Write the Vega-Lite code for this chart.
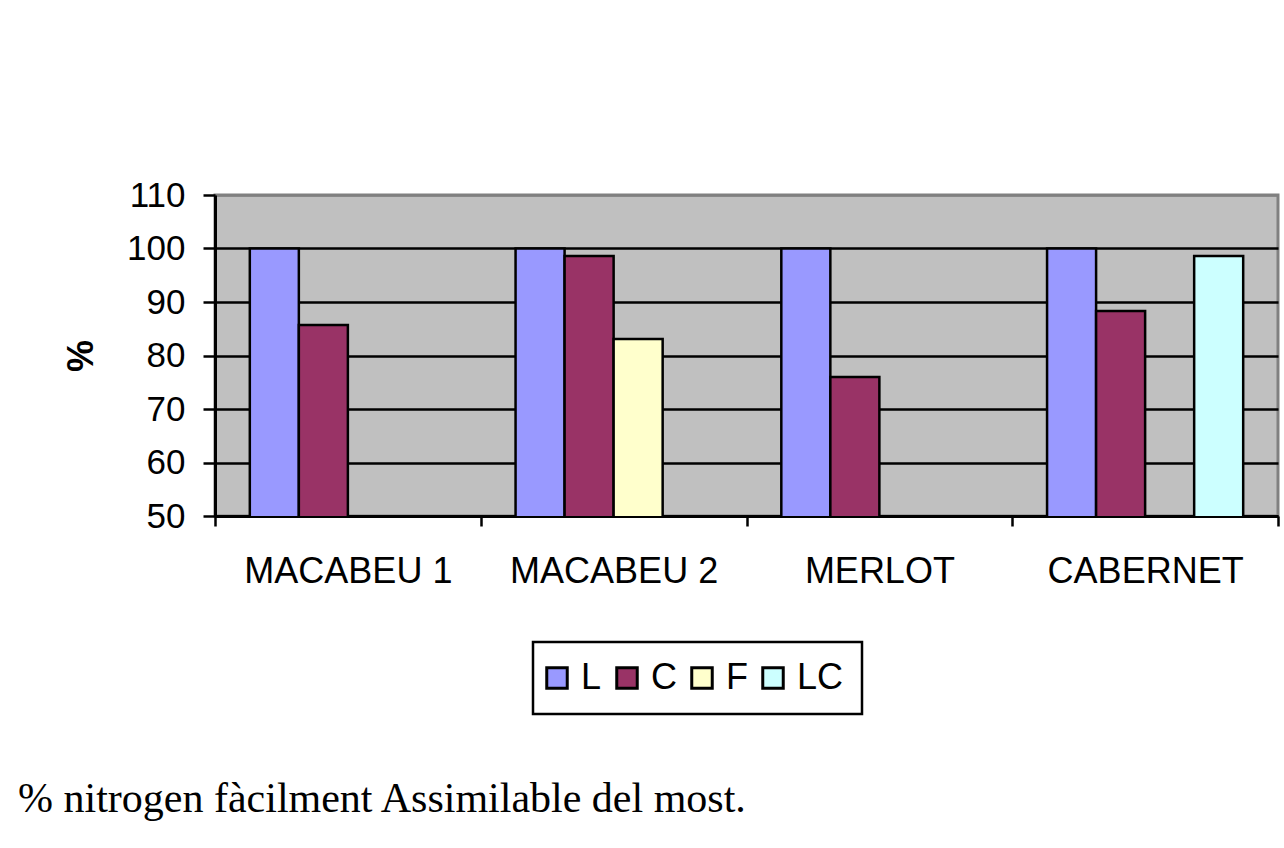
{
  "$schema": "https://vega.github.io/schema/vega-lite/v6.json",
  "autosize": {"type": "none"},
  "width": 1063,
  "height": 321,
  "padding": {"left": 215, "top": 195, "right": 6, "bottom": 332},
  "background": "white",
  "title": {
    "text": "% nitrogen fàcilment Assimilable del most.",
    "orient": "bottom",
    "anchor": "start",
    "frame": "group",
    "dx": -197,
    "offset": 64,
    "font": "Liberation Serif",
    "fontSize": 42,
    "fontWeight": "normal",
    "color": "black"
  },
  "data": {
    "values": [
      {"variety": "MACABEU 1", "treatment": "L", "pct": 100},
      {"variety": "MACABEU 1", "treatment": "C", "pct": 85.7},
      {"variety": "MACABEU 2", "treatment": "L", "pct": 100},
      {"variety": "MACABEU 2", "treatment": "C", "pct": 98.6},
      {"variety": "MACABEU 2", "treatment": "F", "pct": 83.1},
      {"variety": "MERLOT", "treatment": "L", "pct": 100},
      {"variety": "MERLOT", "treatment": "C", "pct": 76},
      {"variety": "CABERNET", "treatment": "L", "pct": 100},
      {"variety": "CABERNET", "treatment": "C", "pct": 88.3},
      {"variety": "CABERNET", "treatment": "LC", "pct": 98.6}
    ]
  },
  "mark": {"type": "bar", "stroke": "black", "strokeWidth": 2.5, "clip": true},
  "encoding": {
    "x": {
      "field": "variety",
      "type": "nominal",
      "sort": ["MACABEU 1", "MACABEU 2", "MERLOT", "CABERNET"],
      "scale": {"paddingInner": 0, "paddingOuter": 0},
      "axis": {
        "title": null,
        "labelAngle": 0,
        "labelFont": "Liberation Sans",
        "labelFontSize": 36,
        "labelColor": "black",
        "labelPadding": 28,
        "labelLimit": 400,
        "tickBand": "extent",
        "tickSize": 10,
        "tickWidth": 2.5,
        "tickColor": "black",
        "domainColor": "black",
        "domainWidth": 3
      }
    },
    "xOffset": {
      "field": "treatment",
      "type": "nominal",
      "sort": ["L", "C", "F", "LC"],
      "scale": {"domain": ["L", "C", "F", "LC"], "paddingInner": 0, "paddingOuter": 0.71}
    },
    "y": {
      "field": "pct",
      "type": "quantitative",
      "scale": {"domain": [50, 110], "nice": false, "zero": false},
      "axis": {
        "title": "%",
        "titleFont": "Liberation Sans",
        "titleFontSize": 36,
        "titleFontWeight": "bold",
        "titleColor": "black",
        "titlePadding": 26,
        "values": [50, 60, 70, 80, 90, 100, 110],
        "labelFont": "Liberation Sans",
        "labelFontSize": 35,
        "labelColor": "black",
        "labelPadding": 18,
        "tickSize": 12,
        "tickWidth": 2.5,
        "tickColor": "black",
        "domainColor": "black",
        "domainWidth": 3,
        "grid": true,
        "gridColor": {"condition": {"test": "datum.value == 110", "value": "#808080"}, "value": "black"},
        "gridWidth": 2.5
      }
    },
    "color": {
      "field": "treatment",
      "type": "nominal",
      "scale": {
        "domain": ["L", "C", "F", "LC"],
        "range": ["#9999FF", "#993366", "#FFFFCC", "#CCFFFF"]
      },
      "legend": {
        "title": null,
        "orient": "none",
        "legendX": 318,
        "legendY": 447,
        "direction": "horizontal",
        "strokeColor": "black",
        "fillColor": "white",
        "padding": 18,
        "symbolType": "square",
        "symbolSize": 420,
        "symbolOffset": -12,
        "symbolStrokeColor": "black",
        "symbolStrokeWidth": 3,
        "labelFont": "Liberation Sans",
        "labelFontSize": 36,
        "labelColor": "black",
        "labelOffset": 6,
        "columnPadding": 8,
        "symbolOpacity": 1,
        "encode": {"legend": {"update": {"strokeWidth": {"value": 2.5}}}}
      }
    }
  },
  "config": {
    "view": {"fill": "#C0C0C0", "stroke": "#808080", "strokeWidth": 3}
  }
}
